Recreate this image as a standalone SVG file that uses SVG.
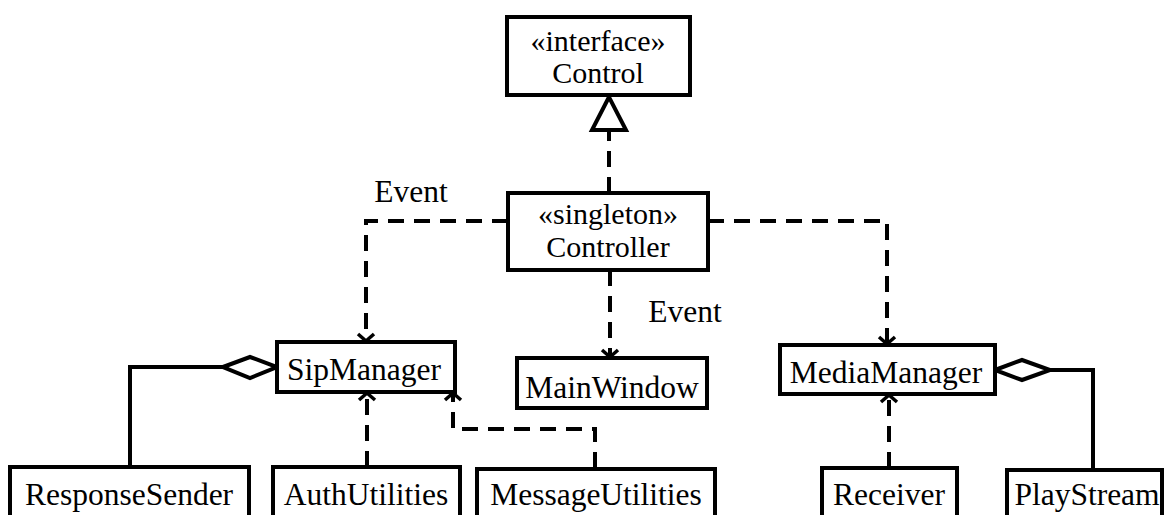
<svg xmlns="http://www.w3.org/2000/svg" width="1169" height="515" viewBox="0 0 1169 515">
<style>
.box{fill:#fff;stroke:#000;stroke-width:4}
.t{font-family:"Liberation Serif","Times New Roman",serif;font-size:31.5px;fill:#000;text-anchor:middle}
.t2{font-family:"Liberation Serif","Times New Roman",serif;font-size:30px;fill:#000;text-anchor:middle}
.dash{fill:none;stroke:#000;stroke-width:4;stroke-dasharray:16,10}
.solid{fill:none;stroke:#000;stroke-width:4}
</style>
<defs>
<marker id="open" markerUnits="userSpaceOnUse" markerWidth="20" markerHeight="20" refX="10" refY="10" orient="auto" overflow="visible">
<path d="M3,2 L10,10 L3,18" fill="none" stroke="#000" stroke-width="3.5"/>
</marker>
</defs>
<g id="connectors">
<path class="dash" d="M609,193 V130"/>
<polygon points="609,97 592,130 626,130" fill="#fff" stroke="#000" stroke-width="4"/>
<path class="dash" d="M508,221 H366 V341" marker-end="url(#open)"/>
<path class="dash" d="M610,270 V357" marker-end="url(#open)"/>
<path class="dash" d="M708,221 H887 V344" marker-end="url(#open)"/>
<path class="dash" d="M367,467 V393" marker-end="url(#open)"/>
<path class="dash" d="M595,468 V429 H453 V393" marker-end="url(#open)"/>
<path class="dash" d="M889,468 V395" marker-end="url(#open)"/>
<path class="solid" d="M130,467 V367 H223"/>
<polygon points="223,367 250,357 277,367 250,378" fill="#fff" stroke="#000" stroke-width="4"/>
<path class="solid" d="M1093,471 V370 H1050"/>
<polygon points="995,370 1022,360 1050,370 1022,380" fill="#fff" stroke="#000" stroke-width="4"/>
<text class="t" x="411" y="202">Event</text>
<text class="t" x="685" y="322">Event</text>
</g>
<g id="Control">
<rect class="box" x="507" y="17" width="183" height="78"/>
<text class="t2" x="598" y="51">«interface»</text>
<text class="t2" x="598" y="83">Control</text>
</g>
<g id="Controller">
<rect class="box" x="508" y="193" width="200" height="77"/>
<text class="t2" x="608" y="224">«singleton»</text>
<text class="t2" x="608" y="257">Controller</text>
</g>
<g id="SipManager">
<rect class="box" x="277" y="342" width="178" height="50"/>
<text class="t" x="364" y="380">SipManager</text>
</g>
<g id="MainWindow">
<rect class="box" x="517" y="358" width="190" height="50"/>
<text class="t" x="612" y="398">MainWindow</text>
</g>
<g id="MediaManager">
<rect class="box" x="780" y="345" width="215" height="49"/>
<text class="t" x="886" y="383">MediaManager</text>
</g>
<g id="ResponseSender">
<rect class="box" x="10" y="467" width="239" height="60"/>
<text class="t" x="129" y="505">ResponseSender</text>
</g>
<g id="AuthUtilities">
<rect class="box" x="273" y="467" width="187" height="60"/>
<text class="t" x="366" y="505">AuthUtilities</text>
</g>
<g id="MessageUtilities">
<rect class="box" x="477" y="469" width="238" height="60"/>
<text class="t" x="596" y="505">MessageUtilities</text>
</g>
<g id="Receiver">
<rect class="box" x="822" y="468" width="135" height="60"/>
<text class="t" x="889" y="505">Receiver</text>
</g>
<g id="PlayStream">
<rect class="box" x="1007" y="470" width="155" height="60"/>
<text class="t" x="1087" y="505">PlayStream</text>
</g>
</svg>
